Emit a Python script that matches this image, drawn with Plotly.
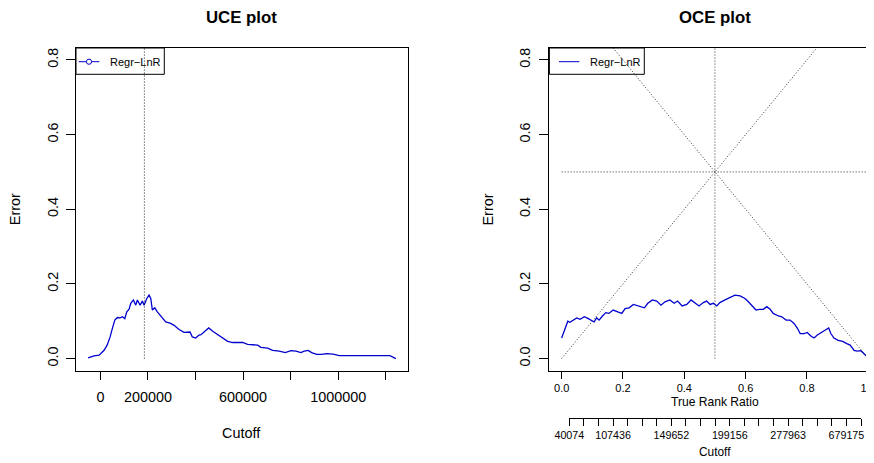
import plotly.graph_objects as go

# ---------------- data ----------------
uce_cutoff = [-51700, -26500, -5500, 15500, 28200, 40800, 50400, 60500, 71400, 82800,
              92400, 102500, 110900, 120600, 127700, 138700, 148700, 155500, 166800, 176500,
              183600, 195000, 204600, 211800, 218500, 228600, 239500, 256300, 274800, 295800,
              309700, 330700, 351700, 376900, 386600, 400800, 414700, 423100, 437000, 455500,
              472300, 493300, 514300, 535300, 556300, 577300, 598300, 619300, 640300, 661300,
              675200, 703300, 724400, 752100, 777300, 801300, 822300, 843300, 857100, 874000,
              888200, 909300, 930300, 951300, 979000, 1004200, 1217300, 1228600, 1242400]
uce_error = [0.002, 0.007, 0.009, 0.022, 0.036, 0.058, 0.081, 0.103, 0.110, 0.109,
             0.112, 0.107, 0.125, 0.132, 0.148, 0.157, 0.143, 0.157, 0.143, 0.154,
             0.143, 0.161, 0.170, 0.161, 0.130, 0.136, 0.125, 0.112, 0.098, 0.094,
             0.089, 0.078, 0.070, 0.071, 0.058, 0.055, 0.063, 0.064, 0.071, 0.082,
             0.073, 0.064, 0.054, 0.046, 0.043, 0.043, 0.043, 0.038, 0.036, 0.036,
             0.030, 0.028, 0.022, 0.020, 0.016, 0.021, 0.020, 0.016, 0.020, 0.022,
             0.016, 0.011, 0.011, 0.013, 0.012, 0.008, 0.008, 0.004, 0.000]
best_cutoff = 185000

oce_ratio = [0.000, 0.005, 0.013, 0.020, 0.027, 0.038, 0.049, 0.060, 0.074, 0.087,
             0.098, 0.106, 0.114, 0.122, 0.133, 0.144, 0.154, 0.168, 0.183, 0.196,
             0.207, 0.220, 0.234, 0.248, 0.255, 0.270, 0.281, 0.296, 0.310, 0.324,
             0.337, 0.353, 0.367, 0.378, 0.393, 0.408, 0.422, 0.433, 0.448, 0.462,
             0.473, 0.484, 0.495, 0.506, 0.516, 0.533, 0.549, 0.565, 0.582, 0.598,
             0.609, 0.620, 0.634, 0.645, 0.658, 0.669, 0.680, 0.690, 0.707, 0.718,
             0.732, 0.745, 0.758, 0.769, 0.778, 0.791, 0.801, 0.812, 0.823, 0.834,
             0.848, 0.862, 0.871, 0.878, 0.888, 0.902, 0.917, 0.930, 0.941, 0.954,
             0.964, 0.976, 0.986, 1.000]
oce_error = [0.055, 0.067, 0.081, 0.100, 0.097, 0.103, 0.109, 0.105, 0.112, 0.107,
             0.103, 0.098, 0.109, 0.103, 0.114, 0.123, 0.121, 0.130, 0.125, 0.121,
             0.134, 0.136, 0.145, 0.141, 0.139, 0.136, 0.148, 0.157, 0.154, 0.143,
             0.152, 0.157, 0.148, 0.154, 0.141, 0.145, 0.157, 0.150, 0.141, 0.150,
             0.154, 0.145, 0.148, 0.141, 0.150, 0.157, 0.163, 0.170, 0.168, 0.161,
             0.152, 0.141, 0.130, 0.132, 0.132, 0.139, 0.132, 0.121, 0.114, 0.112,
             0.103, 0.103, 0.094, 0.081, 0.067, 0.067, 0.070, 0.061, 0.055, 0.063,
             0.070, 0.076, 0.082, 0.067, 0.055, 0.049, 0.046, 0.040, 0.036, 0.022,
             0.020, 0.021, 0.013, 0.002]

# reference guide lines of the OCE plot
diag_up_x, diag_up_y = [0, 1], [0, 1]
diag_dn_x, diag_dn_y = [0, 1], [1, 0]
half_h_x, half_h_y = [0, 1], [0.5, 0.5]
half_v_x, half_v_y = [0.5, 0.5], [0, 1]

series_name = "Regr\u2212LnR"

uce_xticks = [0, 200000, 400000, 600000, 800000, 1000000, 1200000]
uce_xlabels = ["0", "200000", "", "600000", "", "1000000", ""]
err_ticks = [0.0, 0.2, 0.4, 0.6, 0.8]
err_labels = ["0.0", "0.2", "0.4", "0.6", "0.8"]
ratio_ticks = [0.0, 0.2, 0.4, 0.6, 0.8, 1.0]
ratio_labels = ["0.0", "0.2", "0.4", "0.6", "0.8", "1.0"]
cutoff_tick_pos = [0.025 + 0.0475 * i for i in range(21)]
cutoff_tick_labels = ["40074", "", "", "107436", "", "", "", "149652", "", "", "",
                      "199156", "", "", "", "277963", "", "", "", "679175", ""]

# ---------------- styling ----------------
W, H = 874, 463
OFF = 8  # page body margin offset of the figure in the browser
BLUE = "#0000CD"
FONT = "Liberation Sans, Arial, Helvetica, sans-serif"

def px_x(p):
    return (p - OFF) / W

def px_y(p):
    return 1 - (p - OFF) / H

fig = go.Figure()

# UCE panel
fig.add_trace(go.Scatter(x=uce_cutoff, y=uce_error, mode="lines", name=series_name,
                         line=dict(color=BLUE, width=1.3), showlegend=False,
                         xaxis="x", yaxis="y"))
fig.add_trace(go.Scatter(x=[best_cutoff, best_cutoff], y=[0, 1], mode="lines",
                         line=dict(color="#222", width=1, dash="1px,2px"),
                         showlegend=False, xaxis="x", yaxis="y", hoverinfo="skip"))

# OCE panel
for gx, gy in [(diag_up_x, diag_up_y), (diag_dn_x, diag_dn_y),
               (half_h_x, half_h_y), (half_v_x, half_v_y)]:
    fig.add_trace(go.Scatter(x=gx, y=gy, mode="lines",
                             line=dict(color="#333", width=1, dash="1px,2px"),
                             showlegend=False, xaxis="x2", yaxis="y2", hoverinfo="skip"))
fig.add_trace(go.Scatter(x=oce_ratio, y=oce_error, mode="lines", name=series_name,
                         line=dict(color=BLUE, width=1.3), showlegend=False,
                         xaxis="x2", yaxis="y2"))
# carrier for the secondary cutoff axis
fig.add_trace(go.Scatter(x=[None], y=[None], mode="lines", showlegend=False,
                         xaxis="x3", yaxis="y3", hoverinfo="skip"))

ax_common = dict(showline=True, linecolor="black", linewidth=1, showgrid=False,
                 zeroline=False, ticks="outside", tickcolor="black", tickwidth=1,
                 automargin=False,
                 tickfont=dict(family=FONT, size=14.4, color="black"))

ydom = [px_y(370.5), px_y(48)]

fig.update_layout(
    width=W, height=H, margin=dict(l=0, r=0, t=0, b=0, autoexpand=False),
    paper_bgcolor="white", plot_bgcolor="rgba(0,0,0,0)",
    font=dict(family=FONT, color="black"),
    showlegend=False,
    xaxis=dict(ax_common, domain=[px_x(75.5), px_x(407.8)], range=[-104760, 1292760],
               tickvals=uce_xticks, ticktext=uce_xlabels, ticklen=8.5, mirror=True,
               anchor="y", ticklabelstandoff=5),
    yaxis=dict(ax_common, domain=ydom, range=[-0.032, 0.832], tickvals=err_ticks,
               ticktext=err_labels, tickangle=-90, ticklen=9, mirror=True, anchor="x",
               ticklabelstandoff=2),
    xaxis2=dict(ax_common, domain=[px_x(549.4), px_x(880.5)], range=[-0.04, 1.04],
                tickvals=ratio_ticks, ticktext=ratio_labels, ticklen=7.7, mirror=True,
                anchor="y2", tickfont=dict(family=FONT, size=11, color="black"),
                ticklabelstandoff=0),
    yaxis2=dict(ax_common, domain=ydom, range=[-0.032, 0.832], tickvals=err_ticks,
                ticktext=err_labels, tickangle=-90, ticklen=9, mirror=True, anchor="x2",
                ticklabelstandoff=4),
    xaxis3=dict(ax_common, domain=[px_x(569.3), px_x(861)], range=[0.025, 0.975],
                tickvals=cutoff_tick_pos, ticktext=cutoff_tick_labels, ticklen=6.5,
                anchor="free", position=px_y(418.3),
                tickfont=dict(family=FONT, size=10.7, color="black"),
                ticklabelstandoff=0),
    yaxis3=dict(domain=ydom, range=[0, 1], visible=False, anchor="x3"),
)

# legends (R-style boxes in the top-left corner of each panel, transparent)
def add_legend(box_x0, box_x1, line_x0, line_x1, text_x, with_marker):
    fig.add_shape(type="rect", xref="paper", yref="paper",
                  x0=px_x(box_x0), x1=px_x(box_x1), y0=px_y(74.3), y1=px_y(48),
                  line=dict(color="black", width=1), fillcolor="rgba(0,0,0,0)")
    fig.add_shape(type="line", xref="paper", yref="paper",
                  x0=px_x(line_x0), x1=px_x(line_x1), y0=px_y(61.7), y1=px_y(61.7),
                  line=dict(color=BLUE, width=1))
    if with_marker:
        cx = (line_x0 + line_x1) / 2
        fig.add_shape(type="circle", xref="paper", yref="paper",
                      x0=px_x(cx - 2.6), x1=px_x(cx + 2.6),
                      y0=px_y(61.7 + 2.6), y1=px_y(61.7 - 2.6),
                      line=dict(color=BLUE, width=1), fillcolor="white")
    fig.add_annotation(text=series_name, x=px_x(text_x), y=px_y(61.7),
                       xref="paper", yref="paper", xanchor="left", yanchor="middle",
                       showarrow=False,
                       font=dict(family=FONT, size=11, color="black"))

add_legend(76, 164.3, 78.7, 99.3, 107.5, True)
add_legend(549.4, 644.3, 559, 579.3, 588, False)

annots = [
    dict(text="<b>UCE plot</b>", x=px_x(241.6), y=px_y(17.8), size=16.8, angle=0),
    dict(text="<b>OCE plot</b>", x=px_x(715), y=px_y(17.8), size=16.8, angle=0),
    dict(text="Error", x=px_x(15), y=px_y(209.2), size=14.4, angle=-90),
    dict(text="Error", x=px_x(488.3), y=px_y(209.2), size=14.4, angle=-90),
    dict(text="Cutoff", x=px_x(241.6), y=px_y(432.7), size=14.4, angle=0),
    dict(text="True Rank Ratio", x=px_x(715), y=px_y(401.7), size=12.1, angle=0),
    dict(text="Cutoff", x=px_x(715), y=px_y(452), size=11.9, angle=0),
]
for a in annots:
    fig.add_annotation(text=a["text"], x=a["x"], y=a["y"], xref="paper", yref="paper",
                       xanchor="center", yanchor="middle", showarrow=False,
                       textangle=a["angle"],
                       font=dict(family=FONT, size=a["size"], color="black"))

fig.write_html("out.html")
